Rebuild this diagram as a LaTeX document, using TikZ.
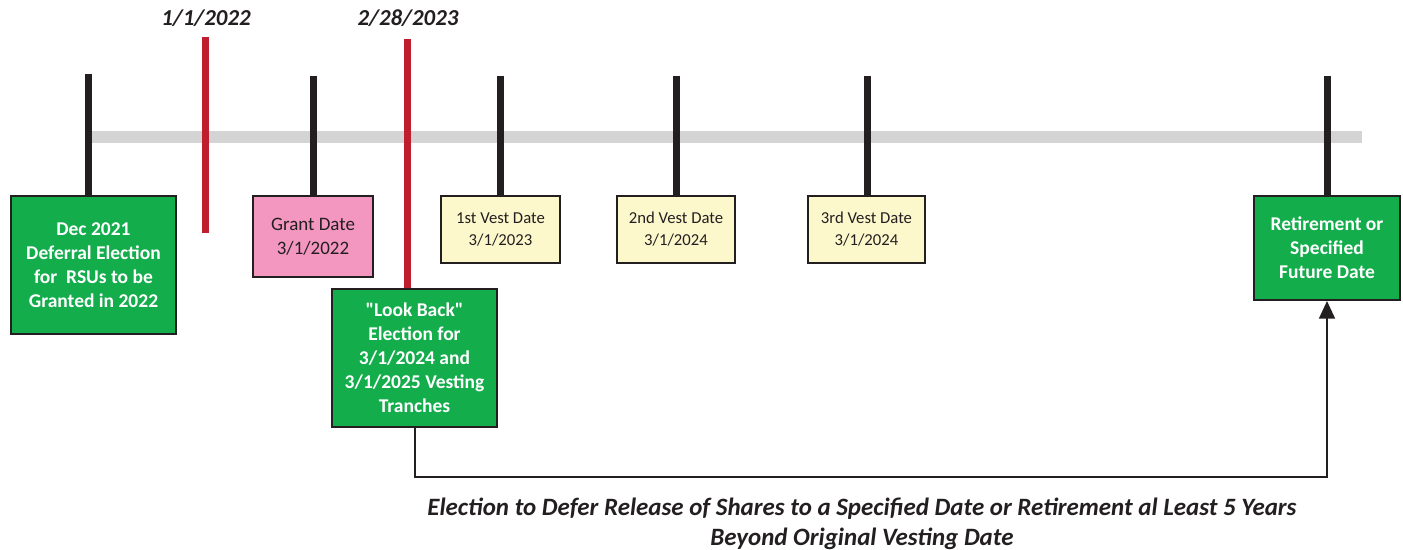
\documentclass[tikz,border=0pt]{standalone}
\usepackage{fontspec}
\setmainfont{Carlito}
\usetikzlibrary{arrows.meta}
\definecolor{boxgreen}{HTML}{13AD4B}
\definecolor{boxpink}{HTML}{F397C0}
\definecolor{boxyellow}{HTML}{FCF8CC}
\definecolor{linered}{HTML}{BE1E2D}
\definecolor{darkink}{HTML}{231F20}
\definecolor{bargray}{HTML}{D4D4D4}
\newlength\pxu
\setlength\pxu{0.02cm}
\tikzset{
  box/.style={draw=darkink, line width=2\pxu, rectangle, inner sep=0pt, align=center},
  greenbox/.style={box, fill=boxgreen, text=white, font=\fontsize{11.1}{13.6}\selectfont\bfseries},
  pinkbox/.style={box, fill=boxpink, text=darkink, font=\fontsize{10.8}{13.6}\selectfont},
  yellowbox/.style={box, fill=boxyellow, text=darkink, font=\fontsize{9.5}{12.5}\selectfont},
  tick/.style={draw=darkink, line width=7\pxu},
  redline/.style={draw=linered, line width=7\pxu},
  datelabel/.style={text=darkink, font=\fontsize{13}{15}\selectfont\bfseries\itshape},
  arr/.style={draw=darkink, line width=2\pxu, -{Triangle[length=10pt,width=9pt]}},
}
\begin{document}
\begin{tikzpicture}[x=0.02cm, y=-0.02cm]
\useasboundingbox (0,0) rectangle (1403,550);
% gray timeline bar
\coordinate (barL) at (90,137);
\coordinate (barR) at (1362,137);
\draw[bargray, line width=12\pxu] (barL) -- (barR);

% boxes
\node[greenbox, minimum width=165\pxu, minimum height=138\pxu] (dec) at (93.5,265)
  {Dec 2021\\Deferral Election\\for\ \ RSUs to be\\Granted in 2022};
\node[pinkbox, minimum width=120\pxu, minimum height=81\pxu] (grant) at (313,236.5)
  {Grant Date\\3/1/2022};
\node[yellowbox, minimum width=119\pxu, minimum height=67\pxu] (v1) at (500.5,229.5)
  {1st Vest Date\\3/1/2023};
\node[yellowbox, minimum width=118\pxu, minimum height=67\pxu] (v2) at (676,229.5)
  {2nd Vest Date\\3/1/2024};
\node[yellowbox, minimum width=117\pxu, minimum height=67\pxu] (v3) at (866.5,229.5)
  {3rd Vest Date\\3/1/2024};
\node[greenbox, minimum width=165\pxu, minimum height=138\pxu] (look) at (414.5,358)
  {\textquotedbl Look Back\textquotedbl\\Election for\\3/1/2024 and\\3/1/2025 Vesting\\Tranches};
\node[greenbox, minimum width=146\pxu, minimum height=104\pxu] (ret) at (1327,248)
  {Retirement or\\Specified\\Future Date};

% black ticks
\coordinate (t1) at (88,74);
\coordinate (t2) at (313,76);
\coordinate (t3) at (500,76);
\coordinate (t4) at (676,76);
\coordinate (t5) at (867,76);
\coordinate (t6) at (1327,76);
\draw[tick] (t1) -- (t1 |- dec.north);
\draw[tick] (t2) -- (t2 |- grant.north);
\draw[tick] (t3) -- (t3 |- v1.north);
\draw[tick] (t4) -- (t4 |- v2.north);
\draw[tick] (t5) -- (t5 |- v3.north);
\draw[tick] (t6) -- (t6 |- ret.north);

% red lines
\coordinate (r1top) at (205,37);
\coordinate (r1bot) at (205,233);
\draw[redline] (r1top) -- (r1bot);
\coordinate (r2top) at (407,39);
\draw[redline] (r2top) -- (r2top |- look.north);

% date labels
\node[datelabel] (d1) at (206,18) {1/1/2022};
\node[datelabel] (d2) at (408,18) {2/28/2023};

% arrow
\coordinate (bend) at (ret.south |- 0,477);
\draw[arr] (look.south) -- (look.south |- bend) -- (bend) -- (ret.south);

% bottom caption
\node[text=darkink, align=center, font=\fontsize{14.2}{17}\selectfont\bfseries\itshape] (cap) at (862,524)
  {Election to Defer Release of Shares to a Specified Date or Retirement al Least 5 Years\\Beyond Original Vesting Date};
\end{tikzpicture}
\end{document}
